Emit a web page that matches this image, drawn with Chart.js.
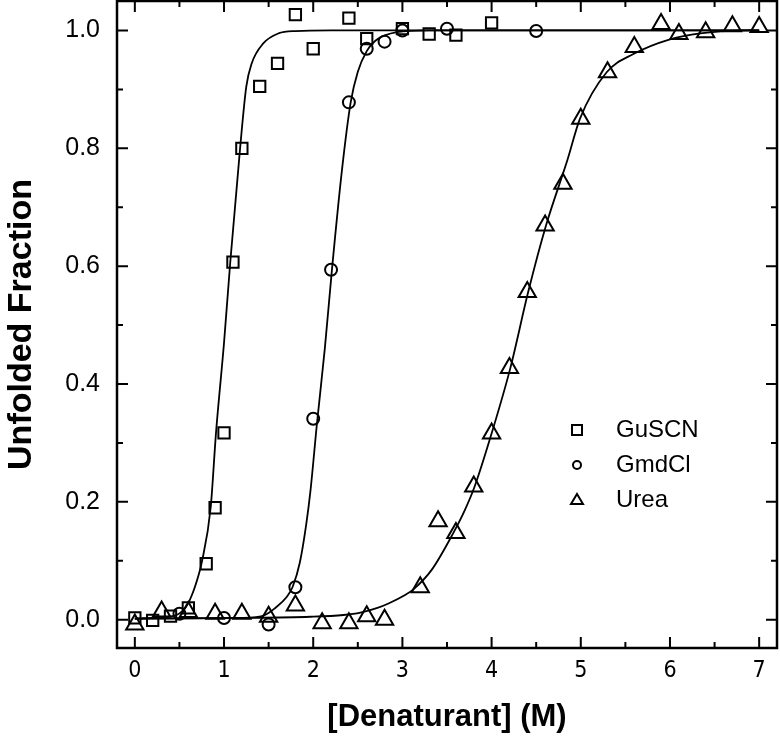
<!DOCTYPE html>
<html>
<head>
<meta charset="utf-8">
<script src="https://cdn.jsdelivr.net/npm/chart.js@4.4.1/dist/chart.umd.min.js"></script>
<style>
  html, body { margin: 0; padding: 0; background: #fff; }
  #wrap { width: 780px; height: 748px; }
</style>
</head>
<body>
<div id="wrap"><canvas id="chart" width="780" height="748"></canvas></div>
<script>
// measured points
const guscnX = [0, 0.2, 0.4, 0.6, 0.8, 0.9, 1.0, 1.1, 1.2, 1.4, 1.6, 1.8, 2.0, 2.4, 2.6, 3.0, 3.3, 3.6, 4.0];
const guscnY = [0.003, -0.001, 0.006, 0.02, 0.095, 0.19, 0.317, 0.607, 0.80, 0.905, 0.944, 1.027, 0.969, 1.021, 0.986, 1.003, 0.994, 0.992, 1.013];

const gmdclX = [0.5, 1.0, 1.5, 1.8, 2.0, 2.2, 2.4, 2.6, 2.8, 3.0, 3.5, 4.5];
const gmdclY = [0.01, 0.003, -0.008, 0.055, 0.341, 0.594, 0.878, 0.969, 0.981, 1.0, 1.003, 0.999];

const ureaX = [0, 0.3, 0.6, 0.9, 1.2, 1.5, 1.8, 2.1, 2.4, 2.6, 2.8, 3.2, 3.4, 3.6, 3.8, 4.0, 4.2, 4.4, 4.6, 4.8, 5.0, 5.3, 5.6, 5.9, 6.1, 6.4, 6.7, 7.0];
const ureaY = [-0.008, 0.014, 0.013, 0.01, 0.01, 0.005, 0.024, -0.006, -0.006, 0.006, 0.0, 0.055, 0.167, 0.147, 0.226, 0.316, 0.427, 0.556, 0.669, 0.74, 0.85, 0.929, 0.972, 1.011, 0.994, 0.997, 1.007, 1.006];

// fitted curves
const guscnFitX = [0, 0.42, 0.566, 0.64, 0.715, 0.75, 0.85, 0.91, 1.0, 1.07, 1.18, 1.25, 1.31, 1.44, 1.61, 1.8, 2.2, 7];
const guscnFitY = [0.002, 0.006, 0.02, 0.042, 0.076, 0.097, 0.19, 0.317, 0.47, 0.607, 0.80, 0.905, 0.944, 0.978, 0.995, 0.999, 1.0, 1.0];

const gmdclFitX = [0, 1.2, 1.46, 1.575, 1.7, 1.77, 1.85, 1.92, 1.97, 2.04, 2.13, 2.21, 2.32, 2.42, 2.5, 2.6, 2.7, 2.94, 3.3, 7];
const gmdclFitY = [0.002, 0.003, 0.008, 0.02, 0.038, 0.056, 0.097, 0.16, 0.22, 0.33, 0.46, 0.594, 0.76, 0.878, 0.93, 0.965, 0.983, 0.997, 1.0, 1.0];

const ureaFitX = [0, 1.2, 1.97, 2.34, 2.53, 2.72, 2.85, 3.03, 3.12, 3.33, 3.57, 3.7, 3.81, 4.0, 4.21, 4.41, 4.61, 4.85, 4.99, 5.29, 5.59, 6.0, 6.34, 6.9, 7];
const ureaFitY = [0.002, 0.003, 0.005, 0.008, 0.012, 0.02, 0.028, 0.042, 0.051, 0.085, 0.147, 0.186, 0.226, 0.316, 0.427, 0.556, 0.669, 0.78, 0.85, 0.929, 0.96, 0.985, 0.995, 1.0, 1.0];

const seriesNames = ['GuSCN', 'GmdCl', 'Urea'];
const xTickValues = [0, 1, 2, 3, 4, 5, 6, 7];
const xMinorTicks = [0.5, 1.5, 2.5, 3.5, 4.5, 5.5, 6.5];
const yTickValues = [0, 0.2, 0.4, 0.6, 0.8, 1.0];
const yMinorTicks = [0.1, 0.3, 0.5, 0.7, 0.9];

function pts(xs, ys) {
    return xs.map((x, i) => ({x: x, y: ys[i]}));
}

Chart.defaults.font.family = "'Liberation Sans', Arial, sans-serif";
Chart.defaults.color = '#000';

function markerSet(label, xs, ys, style, radius) {
    return {
        type: 'scatter',
        label: label,
        data: pts(xs, ys),
        pointStyle: style,
        pointRadius: radius,
        pointBorderWidth: 2,
        borderColor: '#000',
        backgroundColor: 'rgba(0,0,0,0)',
        showLine: false
    };
}

function fitSet(xs, ys) {
    return {
        type: 'line',
        label: '',
        data: pts(xs, ys),
        borderColor: '#000',
        borderWidth: 1.8,
        pointRadius: 0,
        fill: false,
        cubicInterpolationMode: 'monotone'
    };
}

// frame with inward ticks on all four sides
const frameTicks = {
    id: 'frameTicks',
    afterDatasetsDraw(chart) {
        const ctx = chart.ctx;
        const a = chart.chartArea;
        const x = chart.scales.x;
        const y = chart.scales.y;
        ctx.save();
        ctx.strokeStyle = '#000';
        ctx.lineWidth = 2;
        ctx.beginPath();
        const xt = (v, len) => {
            const px = x.getPixelForValue(v);
            ctx.moveTo(px, a.bottom); ctx.lineTo(px, a.bottom - len);
            ctx.moveTo(px, a.top); ctx.lineTo(px, a.top + len);
        };
        const yt = (v, len) => {
            const py = y.getPixelForValue(v);
            ctx.moveTo(a.left, py); ctx.lineTo(a.left + len, py);
            ctx.moveTo(a.right, py); ctx.lineTo(a.right - len, py);
        };
        xTickValues.forEach(v => xt(v, 11));
        xMinorTicks.forEach(v => xt(v, 6));
        yTickValues.forEach(v => yt(v, 11));
        yMinorTicks.forEach(v => yt(v, 6));
        ctx.stroke();
        ctx.lineWidth = 2.5;
        ctx.strokeRect(a.left, a.top, a.right - a.left, a.bottom - a.top);
        ctx.restore();
    }
};

// legend inside the plot
const insideLegend = {
    id: 'insideLegend',
    afterDraw(chart) {
        const ctx = chart.ctx;
        const rows = [430, 465, 500];
        ctx.save();
        ctx.strokeStyle = '#000';
        ctx.fillStyle = '#000';
        ctx.lineWidth = 2;
        ctx.font = "24px 'Liberation Sans', Arial, sans-serif";
        ctx.textBaseline = 'middle';
        chart.data.datasets.filter(d => d.type === 'scatter').forEach((d, i) => {
            const mx = 577, my = rows[i];
            ctx.beginPath();
            if (d.pointStyle === 'rect') {
                ctx.rect(mx - 5, my - 5, 10, 10);
            } else if (d.pointStyle === 'circle') {
                ctx.arc(mx, my, 4, 0, Math.PI * 2);
            } else {
                ctx.moveTo(mx, my - 6);
                ctx.lineTo(mx + 6, my + 4);
                ctx.lineTo(mx - 6, my + 4);
                ctx.closePath();
            }
            ctx.stroke();
            ctx.fillText(d.label, 616, my);
        });
        ctx.restore();
    }
};

new Chart(document.getElementById('chart'), {
    type: 'scatter',
    data: {
        datasets: [
            markerSet(seriesNames[0], guscnX, guscnY, 'rect', 8),
            markerSet(seriesNames[1], gmdclX, gmdclY, 'circle', 6),
            markerSet(seriesNames[2], ureaX, ureaY, 'triangle', 10),
            fitSet(guscnFitX, guscnFitY),
            fitSet(gmdclFitX, gmdclFitY),
            fitSet(ureaFitX, ureaFitY)
        ]
    },
    options: {
        responsive: false,
        animation: false,
        events: [],
        layout: {autoPadding: false, padding: {top: 1, right: 3, left: 0, bottom: 0}},
        plugins: {
            legend: {display: false},
            tooltip: {enabled: false}
        },
        scales: {
            x: {
                type: 'linear',
                min: -0.2,
                max: 7.2,
                afterBuildTicks: s => { s.ticks = xTickValues.map(v => ({value: v})); },
                afterFit: s => { s.height = 100; s.paddingLeft = 0; s.paddingRight = 0; },
                grid: {display: false, drawTicks: false},
                border: {display: false},
                ticks: {
                    padding: 9,
                    font: {size: 23, family: "'Liberation Sans Narrow', 'DejaVu Sans Condensed', 'Liberation Sans', sans-serif"},
                    callback: v => String(v)
                },
                title: {
                    display: true,
                    text: '[Denaturant] (M)',
                    font: {size: 31, weight: 'bold'},
                    padding: {top: 0, bottom: 12}
                }
            },
            y: {
                type: 'linear',
                min: -0.048,
                max: 1.05,
                afterBuildTicks: s => { s.ticks = yTickValues.map(v => ({value: v})); },
                afterFit: s => { s.width = 117; s.paddingTop = 0; s.paddingBottom = 0; },
                grid: {display: false, drawTicks: false},
                border: {display: false},
                ticks: {
                    padding: 17,
                    font: {size: 25},
                    callback: v => v.toFixed(1)
                },
                title: {
                    display: true,
                    text: 'Unfolded Fraction',
                    font: {size: 34, weight: 'bold'},
                    padding: {top: 1, bottom: 0}
                }
            }
        }
    },
    plugins: [frameTicks, insideLegend]
});
</script>
</body>
</html>
